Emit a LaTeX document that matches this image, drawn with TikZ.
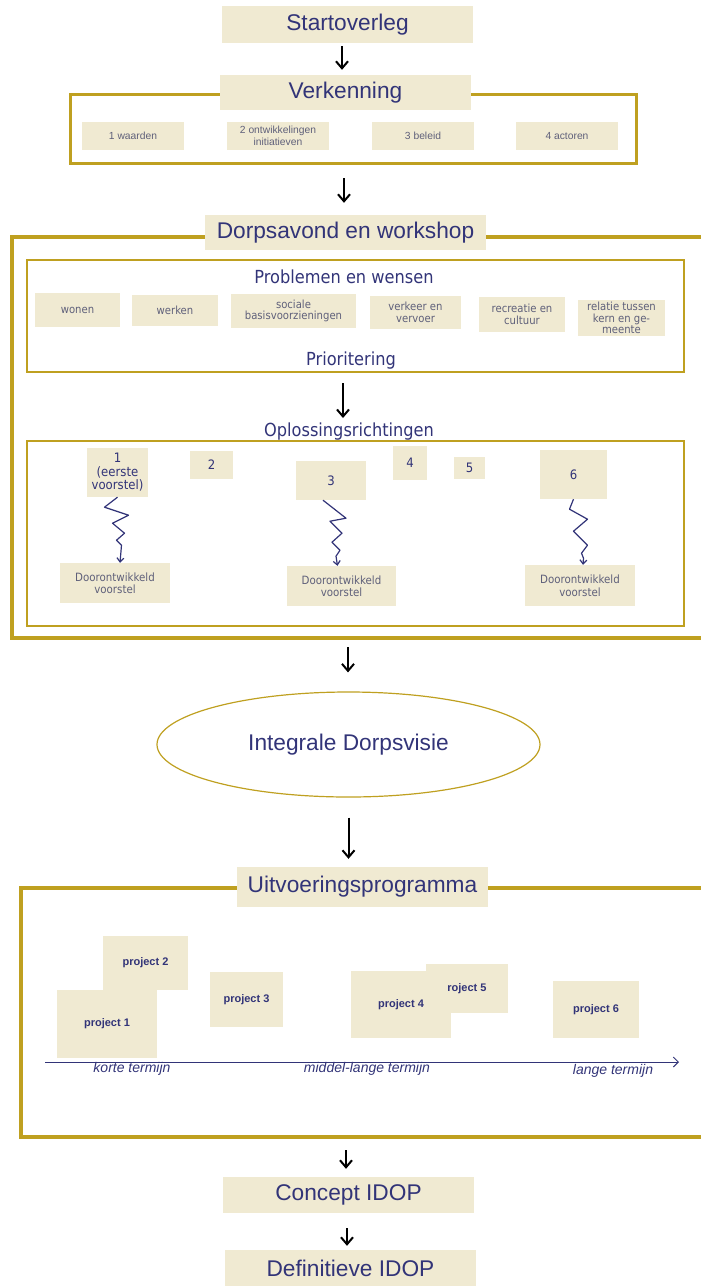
\documentclass[tikz,border=0pt]{standalone}
\usepackage{fontspec}
\setmainfont{Liberation Sans}
\newfontfamily\tahoma[FakeStretch=0.9]{DejaVu Sans}
\usetikzlibrary{arrows.meta, shapes.geometric}
\definecolor{beige}{RGB}{240,234,210}
\definecolor{gold}{RGB}{191,160,32}
\definecolor{navy}{RGB}{50,52,120}
\definecolor{greytext}{RGB}{95,96,122}

\tikzset{
  sz/.style 2 args={minimum width=#1pt, minimum height=#2pt},
  headbox/.style={fill=beige, text=navy, inner sep=0pt, font=\fontsize{22.7}{26}\selectfont},
  smallbox/.style={fill=beige, text=greytext, inner sep=0pt, align=center, font=\fontsize{10.3}{11.5}\selectfont},
  wishbox/.style={fill=beige, text=greytext, inner sep=0pt, align=center, font=\tahoma\fontsize{11.2}{11.5}\selectfont},
  optionbox/.style={fill=beige, text=navy, inner sep=0pt, align=center, font=\tahoma\fontsize{13}{13.5}\selectfont},
  devbox/.style={fill=beige, text=greytext, inner sep=0pt, align=center, font=\tahoma\fontsize{11.4}{12.5}\selectfont},
  projbox/.style={fill=beige, text=navy, inner sep=0pt, font=\bfseries\fontsize{11}{12}\selectfont},
  subtitle/.style={text=navy, inner sep=0pt, font=\tahoma\fontsize{18}{20}\selectfont},
  termlabel/.style={text=navy, inner sep=0pt, font=\itshape\fontsize{14}{16}\selectfont},
  frame/.style={draw=gold, inner sep=0pt, outer sep=0pt},
  flow/.style={-{Straight Barb[length=7pt, width=12pt]}, line width=2pt, black},
  zig/.style={draw=navy, line width=1.2pt, line join=round, -{Straight Barb[length=4pt, width=7pt]}},
  timeline/.style={draw=navy, line width=1pt, -{Straight Barb[length=5pt, width=10pt]}}
}

\begin{document}
\begin{tikzpicture}[x=1pt, y=-1pt]

  \path[use as bounding box, clip] (0, 0) rectangle (701, 1286);

  % frames
  \node[frame, line width=3pt, sz={566}{69}] (verkframe) at (353, 128.5) {};
  \node[frame, line width=4pt, sz={708}{401}] (dorpframe) at (366, 437.5) {};
  \node[frame, line width=1.2pt, sz={657}{112}] (probbox) at (355.5, 316) {};
  \node[frame, line width=1.2pt, sz={657}{185}] (oplbox) at (355.5, 533.5) {};
  \node[frame, line width=4pt, sz={699}{249}] (uitvframe) at (370.5, 1012.5) {};
  \node[draw=gold, line width=1.2pt, ellipse, inner sep=0pt, sz={383}{105}, text=navy,
        font=\fontsize{22.7}{26}\selectfont] (visie) at (348.5, 744.5) {Integrale Dorpsvisie};

  % titles
  \node[headbox, sz={251}{37}] (start) at (347.5, 24.5) {Startoverleg};
  \node[headbox, sz={251}{35}] (verk) at (345.5, 92.5) {Verkenning};
  \node[headbox, sz={281}{35}] (dorp) at (345.5, 232.5) {Dorpsavond en workshop};
  \node[headbox, sz={251}{40}] (uitv) at (362.5, 887) {Uitvoeringsprogramma};
  \node[headbox, sz={251}{36}] (concept) at (348.5, 1195) {Concept IDOP};
  \node[headbox, sz={251}{37}] (def) at (350.5, 1268.5) {Definitieve IDOP};

  % verkenning
  \node[smallbox, sz={102}{28}] (waarden) at (133, 136) {1 waarden};
  \node[smallbox, sz={102}{28}] (ontw) at (278, 136) {2 ontwikkelingen\\initiatieven};
  \node[smallbox, sz={102}{28}] (beleid) at (423, 136) {3 beleid};
  \node[smallbox, sz={102}{28}] (actoren) at (567, 136) {4 actoren};

  % problemen en wensen
  \node[subtitle] (probl) at (344, 277) {Problemen en wensen};
  \node[wishbox, sz={85}{34}] (wonen) at (77.5, 310) {wonen};
  \node[wishbox, sz={86}{31}] (werken) at (175, 310.5) {werken};
  \node[wishbox, sz={125}{34}] (sociaal) at (293.5, 311) {sociale\\basisvoorzieningen};
  \node[wishbox, sz={91}{33}] (verkeer) at (415.5, 312.5) {verkeer en\\vervoer};
  \node[wishbox, sz={86}{35}] (recreatie) at (522, 314.5) {recreatie en\\cultuur};
  \node[wishbox, sz={87}{36}] (relatie) at (621.5, 318) {relatie tussen\\kern en ge-\\meente};
  \node[subtitle] (prio) at (351, 361) {Prioritering};

  % oplossingsrichtingen
  \node[subtitle] (oplos) at (349, 432) {Oplossingsrichtingen};
  \node[optionbox, sz={61}{49}] (opt1) at (117.5, 472.5) {1\\(eerste\\voorstel)};
  \node[optionbox, sz={43}{28}] (opt2) at (211.5, 465) {2};
  \node[optionbox, sz={70}{39}] (opt3) at (331, 480.5) {3};
  \node[optionbox, sz={34}{34}] (opt4) at (410, 463) {4};
  \node[optionbox, sz={31}{22}] (opt5) at (469.5, 468) {5};
  \node[optionbox, sz={67}{49}] (opt6) at (573.5, 474.5) {6};
  \node[devbox, sz={110}{40}] (dev1) at (115, 583) {Doorontwikkeld\\voorstel};
  \node[devbox, sz={109}{40}] (dev3) at (341.5, 586) {Doorontwikkeld\\voorstel};
  \node[devbox, sz={110}{41}] (dev6) at (580, 585.5) {Doorontwikkeld\\voorstel};

  \draw[zig] (opt1.south) -- ++(-13, 10) -- ++(24, 8) -- ++(-16, 8) -- ++(12, 10)
    -- ++(-8, 7) -- ++(5, 5) -- ([xshift=5pt]dev1.north);
  \draw[zig] ([xshift=-8pt]opt3.south) -- ++(23, 18) -- ++(-16, 3) -- ++(12, 12)
    -- ++(-10, 9) -- ++(8, 8) -- ++(-4, 6) -- ([xshift=-4pt]dev3.north);
  \draw[zig] (opt6.south) -- ++(-4, 10) -- ++(18, 10) -- ++(-14, 12) -- ++(14, 14)
    -- ++(-6, 8) -- ++(2, 5) -- ([xshift=3pt]dev6.north);

  % uitvoeringsprogramma
  \node[projbox, sz={85}{54}] (proj2) at (145.5, 963) {project 2};
  \node[projbox, sz={100}{68}] (proj1) at (107, 1024) {project 1};
  \node[projbox, sz={73}{55}] (proj3) at (246.5, 999.5) {project 3};
  \node[projbox, sz={100}{67}] (proj4) at (401, 1004.5) {project 4};
  \node[projbox, sz={82}{49}] (proj5) at (467, 988.5) {roject 5};
  \node[projbox, sz={86}{57}] (proj6) at (596, 1009.5) {project 6};

  \coordinate (tijd0) at (45, 1062);
  \coordinate (tijd1) at (679, 1062);
  \draw[timeline] (tijd0) -- (tijd1);
  \node[termlabel] (kort) at (132, 1069) {korte termijn};
  \node[termlabel] (middel) at (367, 1069) {middel-lange termijn};
  \node[termlabel] (lang) at (613, 1071) {lange termijn};

  % arrows
  \draw[flow, shorten <=3pt, shorten >=5pt] ([xshift=-5.5pt]start.south) -- ([xshift=-5.5pt]start.south |- verk.north);
  \draw[flow, shorten <=15pt, shorten >=12pt] ([xshift=-9pt]verkframe.south) -- ([xshift=-9pt]verkframe.south |- dorp.north);
  \draw[flow, shorten <=11pt, shorten >=23pt] ([xshift=-12.5pt]probbox.south) -- ([xshift=-12.5pt]probbox.south |- oplbox.north);
  \draw[flow, shorten <=9pt, shorten >=19pt] ([xshift=-18pt]dorpframe.south) -- ([xshift=-18pt]dorpframe.south |- visie.north);
  \draw[flow, shorten <=20pt, shorten >=8pt] (visie.south) -- (visie.south |- uitv.north);
  \draw[flow, shorten <=13pt, shorten >=8pt] ([xshift=-24.5pt]uitvframe.south) -- ([xshift=-24.5pt]uitvframe.south |- concept.north);
  \draw[flow, shorten <=15pt, shorten >=4pt] ([xshift=-1.5pt]concept.south) -- ([xshift=-1.5pt]concept.south |- def.north);
\end{tikzpicture}
\end{document}
